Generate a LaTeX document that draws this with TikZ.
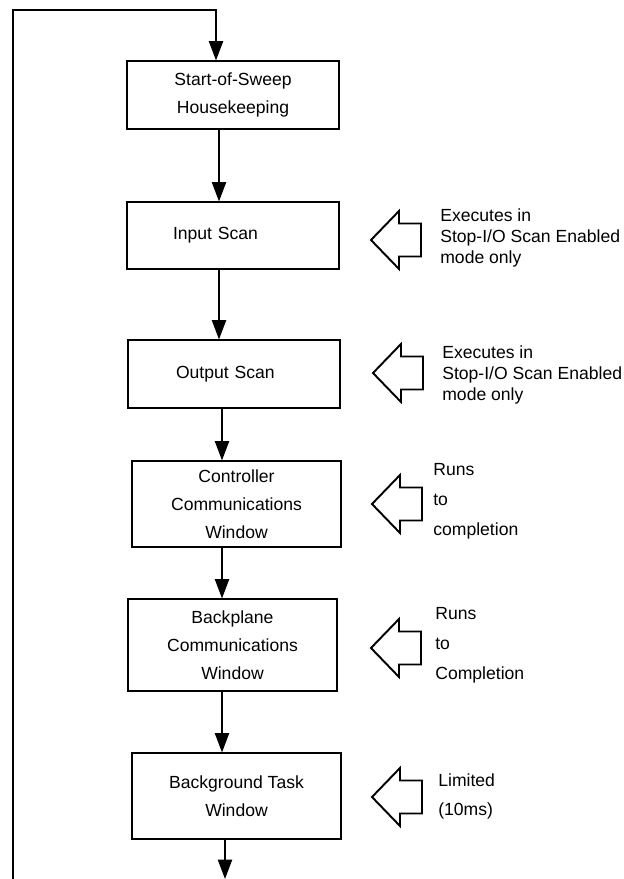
\documentclass[tikz,border=0pt]{standalone}
\usepackage{fontspec}
\setmainfont{Liberation Sans}
\usetikzlibrary{arrows.meta}

\tikzset{
  stagebox/.style={draw, line width=0.6pt, align=center, inner sep=0pt,
    font=\fontsize{10}{16}\selectfont},
  flow/.style={-{Triangle[length=11pt,width=8pt]}, line width=1.1pt, line join=miter},
  note/.style={anchor=west, align=left, inner sep=0pt},
  pics/modearrow/.style={code={
    \draw[line width=1.1pt, line join=miter]
      (0,0) -- (28,-29) -- (28,-16.5) -- (50,-16.5) -- (50,16.5)
      -- (28,16.5) -- (28,29) -- cycle;
  }}
}

\begin{document}
\begin{tikzpicture}[x=0.02cm, y=-0.02cm]
  % one unit = one pixel of the 623 x 879 sheet
  \def\px{0.02cm}
  \useasboundingbox (0,0) rectangle (623,879);

  % Sweep stages, top to bottom
  \node[stagebox, minimum width=212*\px, minimum height=68*\px] (sweep) at (233,95)
    {Start-of-Sweep\\Housekeeping};
  \node[stagebox, minimum width=212*\px, minimum height=67*\px,
        text width=120*\px, align=left] (input) at (233,235.5)
    {Input Scan};
  \node[stagebox, minimum width=212*\px, minimum height=68*\px,
        text width=116*\px, align=left] (output) at (234,374)
    {Output Scan};
  \node[stagebox, minimum width=209*\px, minimum height=86*\px] (ctrl) at (236.5,504)
    {Controller\\Communications\\Window};
  \node[stagebox, minimum width=209*\px, minimum height=92*\px] (backpl) at (232.5,645)
    {Backplane\\Communications\\Window};
  \node[stagebox, minimum width=209*\px, minimum height=86*\px] (backgnd) at (236.5,796)
    {Background Task\\Window};

  % Flow between stages
  \draw[flow] ([xshift=-14*\px]sweep.south) -- ([xshift=-14*\px]input.north);
  \draw[flow] ([xshift=-14*\px]input.south) -- ([xshift=-14*\px]input.south |- output.north);
  \draw[flow] ([xshift=-12*\px]output.south) -- ([xshift=-12*\px]output.south |- ctrl.north);
  \draw[flow] ([xshift=-14.5*\px]ctrl.south) -- ([xshift=-14.5*\px]ctrl.south |- backpl.north);
  \draw[flow] ([xshift=-10.5*\px]backpl.south) -- ([xshift=-10.5*\px]backpl.south |- backgnd.north);

  % Return loop back to the start of the sweep
  \coordinate (loopbot) at (13,879);
  \coordinate (looptop) at (13,10);
  \coordinate (exit) at (225,879);
  \draw[flow] (loopbot) -- (looptop) -| ([xshift=-17*\px]sweep.north);
  \draw[flow] ([xshift=-11.5*\px]backgnd.south) -- (exit);

  % Mode notes with hollow arrows
  \pic at (371,240) {modearrow};
  \pic at (373,373) {modearrow};
  \pic at (372,504) {modearrow};
  \pic at (371,648) {modearrow};
  \pic at (372,797) {modearrow};

  \node[note, font=\fontsize{10}{12}\selectfont] (note1) at (440,238)
    {Executes in\\Stop-I/O Scan Enabled\\mode only};
  \node[note, font=\fontsize{10}{12}\selectfont] (note2) at (442,375)
    {Executes in\\Stop-I/O Scan Enabled\\mode only};
  \node[note, font=\fontsize{10}{17}\selectfont] (note3) at (433,501)
    {Runs\\to\\completion};
  \node[note, font=\fontsize{10}{17}\selectfont] (note4) at (435,645)
    {Runs\\to\\Completion};
  \node[note, font=\fontsize{10}{16.5}\selectfont] (note5) at (438,796)
    {Limited\\(10ms)};
\end{tikzpicture}
\end{document}
